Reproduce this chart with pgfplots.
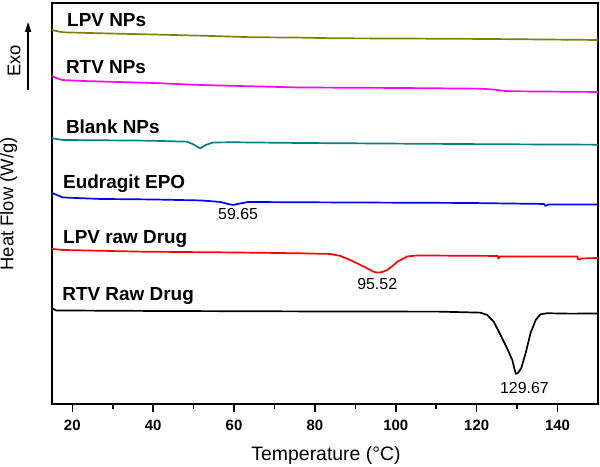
\documentclass[border=0pt]{standalone}
\usepackage{fontspec}
\setmainfont{Liberation Sans}
\usepackage{pgfplots}
\pgfplotsset{compat=1.18}
\usetikzlibrary{arrows.meta}
\definecolor{olivec}{RGB}{128,128,0}
\definecolor{magc}{RGB}{255,0,255}
\definecolor{tealc}{RGB}{0,128,128}
\definecolor{bluec}{RGB}{0,0,255}
\definecolor{redc}{RGB}{255,0,0}
\begin{document}
\begin{tikzpicture}
\path (0,0) rectangle (600bp,467bp);
\begin{axis}[
  at={(52bp,63bp)}, anchor=south west,
  scale only axis, width=546bp, height=401bp,
  xmin=15, xmax=150, ymin=-404, ymax=-3,
  ytick=\empty,
  xtick={20,40,...,140},
  minor xtick={30,50,...,130},
  xtick pos=left,
  xtick align=outside,
  major tick length=8bp, minor tick length=4.7bp,
  tick style={black, line width=1.6bp},
  axis line style={line width=1.5bp},
  /pgf/number format/assume math mode=true,
  xticklabel style={font=\fontsize{15}{17}\selectfont\bfseries, anchor=north, inner sep=0pt, yshift=-8bp},
  clip=false,
  every axis plot/.append style={line width=1.7bp, line join=round},
]
% LPV NPs
\addplot[olivec] coordinates {(15,-30) (16,-31) (17.7,-32.3) (27,-33.3) (40,-34.5) (52,-35.7) (64,-37.2) (76,-37.6) (85,-38.3) (100,-38.5) (123,-39) (150,-40)};
% RTV NPs
\addplot[magc] coordinates {(15,-76) (16,-78) (17.5,-80) (22.6,-81) (40,-83) (51.6,-85) (76,-87.5) (101,-88) (121,-88.7) (124,-89.5) (127,-91) (129,-91.3) (150,-92)};
% Blank NPs
\addplot[tealc] coordinates {(15,-138.3) (17.7,-140) (39,-140.7) (48.4,-141.7) (50,-144.5) (51.6,-148.5) (53,-145) (54.8,-142.5) (60,-142.3) (76,-143) (126,-144.3) (150,-144.7)};
% Eudragit EPO
\addplot[bluec] coordinates {(15,-193) (17.7,-197.5) (27,-199) (40,-199.5) (52,-200.5) (56.6,-202) (58.5,-204) (59.7,-205) (61.5,-203.5) (63.5,-202) (76,-202.3) (100,-202.7) (118,-203) (136.7,-204) (137,-206) (137.8,-204.5) (150,-204.5)};
% LPV raw Drug
\addplot[redc] coordinates {(15,-249) (17.7,-250) (37,-251.7) (60,-252.5) (76,-253.3) (83.8,-254) (86.3,-256) (88.7,-260) (91,-264.5) (92.9,-268.3) (94.5,-271.7) (95.5,-272.7) (96.7,-272) (97.9,-270) (99.2,-266) (100.4,-261.7) (102.8,-256.5) (105.3,-255.5) (125.2,-256) (125.4,-258.7) (125.8,-256.5) (144.9,-256.5) (145.1,-259.5) (146,-258.5) (150,-258)};
% RTV Raw Drug
\addplot[black] coordinates {(15,-308.3) (16,-310.5) (40,-311) (80,-311.5) (111,-311.7) (120.9,-312.7) (122.6,-315) (124.2,-321.7) (125.9,-335) (127.5,-348.3) (128.8,-360) (129.4,-370) (129.7,-374) (130.2,-373) (131,-368.3) (132.1,-353.3) (133.3,-333.3) (134.6,-320) (135.8,-314.3) (137.4,-313.3) (143.2,-313.7) (150,-313.5)};
% tick marks drawn explicitly below the x axis (1 y unit = 1bp)
\pgfplotsinvokeforeach{20,40,60,80,100,120,140}{\draw[black, line width=1.6bp] (axis cs:#1,-404) -- (axis cs:#1,-412);}
\pgfplotsinvokeforeach{30,50,70,90,110,130}{\draw[black, line width=1.6bp] (axis cs:#1,-404) -- (axis cs:#1,-408.7);}
% series labels
\begin{scope}[every node/.style={inner sep=0pt, anchor=base west, font=\fontsize{19}{22}\selectfont\bfseries}]
\node at (axis cs:18.7,-27) {LPV NPs};
\node at (axis cs:18.4,-73.3) {RTV NPs};
\node at (axis cs:18.4,-133.3) {Blank NPs};
\node at (axis cs:17.7,-188.3) {Eudragit EPO};
\node at (axis cs:17.7,-244) {LPV raw Drug};
\node at (axis cs:17.5,-300.7) {RTV Raw Drug};
\end{scope}
\begin{scope}[every node/.style={inner sep=0pt, anchor=center, font=\fontsize{16}{18}\selectfont}]
\node at (axis cs:61,-214) {59.65};
\node at (axis cs:95.4,-284) {95.52};
\node at (axis cs:131.8,-388) {129.67};
\end{scope}
\end{axis}
\node[inner sep=0pt, anchor=center, font=\fontsize{19.5}{22}\selectfont] at (326bp,11bp) {Temperature (\textdegree C)};
\node[inner sep=0pt, anchor=center, rotate=90, font=\fontsize{18.5}{21}\selectfont] at (8.5bp,263bp) {Heat Flow (W/g)};
\node[inner sep=0pt, anchor=center, rotate=90, font=\fontsize{18.5}{21}\selectfont] at (14bp,406bp) {Exo};
\draw[line width=1.5bp, -{Triangle[width=6bp,length=10bp]}] (28bp,377bp) -- (28bp,445bp);
\end{tikzpicture}
\end{document}
